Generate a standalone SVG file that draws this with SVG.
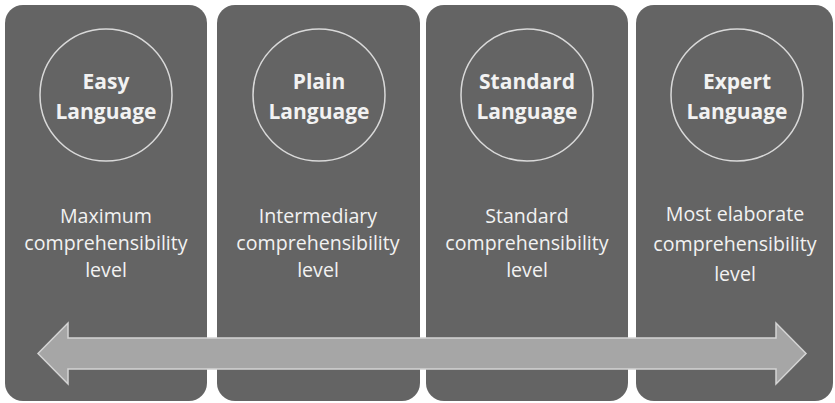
<svg xmlns="http://www.w3.org/2000/svg" width="835" height="403" viewBox="0 0 835 403">
<style>
.panel{fill:#646464;}
.ring{fill:none;stroke:#d9d9d9;stroke-width:1.5;}
.title{font-family:"Open Sans","Liberation Sans",sans-serif;font-weight:bold;font-size:21px;fill:#f2f2f2;text-anchor:middle;}
.body{font-family:"Open Sans","Liberation Sans",sans-serif;font-size:19.6px;fill:#f2f2f2;text-anchor:middle;}
.arrow{fill:#a6a6a6;stroke:#d4d4d4;stroke-width:1.5;}
</style>
<rect width="835" height="403" fill="#ffffff"/>
<g id="easy">
<rect class="panel" x="5" y="5" width="202" height="396" rx="18"/>
<circle class="ring" cx="106" cy="95" r="66"/>
<text class="title" x="106" y="89">Easy</text>
<text class="title" x="106" y="119">Language</text>
<text class="body" x="106" y="223">Maximum</text>
<text class="body" x="106" y="250">comprehensibility</text>
<text class="body" x="106" y="277">level</text>
</g>
<g id="plain">
<rect class="panel" x="217" y="5" width="203" height="396" rx="18"/>
<circle class="ring" cx="319" cy="95" r="66"/>
<text class="title" x="319" y="89">Plain</text>
<text class="title" x="319" y="119">Language</text>
<text class="body" x="318" y="223">Intermediary</text>
<text class="body" x="318" y="250">comprehensibility</text>
<text class="body" x="318" y="277">level</text>
</g>
<g id="standard">
<rect class="panel" x="426" y="5" width="202" height="396" rx="18"/>
<circle class="ring" cx="527" cy="95" r="66"/>
<text class="title" x="527" y="89">Standard</text>
<text class="title" x="527" y="119">Language</text>
<text class="body" x="527" y="223">Standard</text>
<text class="body" x="527" y="250">comprehensibility</text>
<text class="body" x="527" y="277">level</text>
</g>
<g id="expert">
<rect class="panel" x="636" y="5" width="197" height="396" rx="18"/>
<circle class="ring" cx="737" cy="95" r="66"/>
<text class="title" x="737" y="89">Expert</text>
<text class="title" x="737" y="119">Language</text>
<text class="body" x="735" y="221">Most elaborate</text>
<text class="body" x="735" y="251">comprehensibility</text>
<text class="body" x="735" y="281">level</text>
</g>
<g id="connectors">
<path class="arrow" d="M38,353.5 L68,323 L68,338 L776,338 L776,323 L806,353.5 L776,384 L776,369 L68,369 L68,384 Z"/>
</g>
</svg>
